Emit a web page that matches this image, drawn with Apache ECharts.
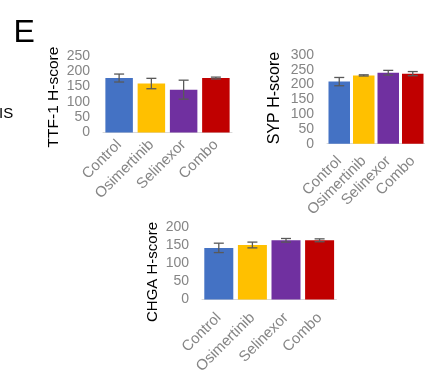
<!DOCTYPE html>
<html>
<head>
<meta charset="utf-8">
<style>
  html, body { margin: 0; padding: 0; background: #fff; }
  #chart { width: 425px; height: 381px; }
</style>
<script src="https://cdn.jsdelivr.net/npm/echarts@6/dist/echarts.min.js"></script>
</head>
<body>
<div id="chart"></div>
<script>
// Treatment groups shared by all three panels
const categories = ['Control', 'Osimertinib', 'Selinexor', 'Combo'];
const barColors = ['#4472C4', '#FFC000', '#7030A0', '#C00000'];

// TTF-1 H-score: mean and error
const ttf1Mean = [178, 160, 140, 178];
const ttf1Err = [13, 17, 31, 3];

// SYP H-score: mean and error
const sypMean = [210, 231, 240, 237];
const sypErr = [14, 2, 8, 7];

// CHGA H-score: mean and error
const chgaMean = [143, 151, 164, 164];
const chgaErr = [13, 8, 5, 4];

const FONT = '"Liberation Sans", Arial, sans-serif';
const GREY = '#858585';

const panels = [
  { title: 'TTF-1 H-score', mean: ttf1Mean, err: ttf1Err, max: 250,
    grid: { left: 103, top: 56, width: 129, height: 76.5 }, barWidth: 27.5, labelMargin: 10,
    titlePos: [54, 97], titleSize: 15.5 },
  { title: 'SYP H-score', mean: sypMean, err: sypErr, max: 300,
    grid: { left: 327, top: 55, width: 99.6, height: 88.7 }, barWidth: 21.5, labelMargin: 15,
    titlePos: [275, 98], titleSize: 16 },
  { title: 'CHGA H-score', mean: chgaMean, err: chgaErr, max: 200,
    grid: { left: 202, top: 227.3, width: 134.4, height: 72.2 }, barWidth: 29, labelMargin: 16,
    titlePos: [153, 272], titleSize: 15 }
];

const grids = [], xAxes = [], yAxes = [], series = [], graphics = [];

panels.forEach((p, i) => {
  grids.push(Object.assign({ containLabel: false }, p.grid));
  xAxes.push({
    type: 'category', gridIndex: i, data: categories,
    axisLine: { show: true, lineStyle: { color: '#d9d9d9', width: 1 } },
    axisTick: { show: false },
    axisLabel: { rotate: 45, interval: 0, color: GREY, fontFamily: FONT, fontSize: 15,
                 margin: p.labelMargin }
  });
  yAxes.push({
    type: 'value', gridIndex: i, min: 0, max: p.max, interval: 50,
    axisLine: { show: false }, axisTick: { show: false }, splitLine: { show: false },
    axisLabel: { color: GREY, fontFamily: FONT, fontSize: 14, margin: 13 }
  });
  series.push({
    type: 'bar', xAxisIndex: i, yAxisIndex: i, barWidth: p.barWidth,
    data: p.mean.map((v, k) => ({ value: v, itemStyle: { color: barColors[k] } })),
    silent: true
  });
  series.push({
    type: 'custom', xAxisIndex: i, yAxisIndex: i, silent: true, z: 5,
    data: p.mean.map((v, k) => [k, v - p.err[k], v + p.err[k]]),
    renderItem: (params, api) => {
      const lo = api.coord([api.value(0), api.value(1)]);
      const hi = api.coord([api.value(0), api.value(2)]);
      const half = 5;
      const style = { stroke: '#595959', lineWidth: 1.3 };
      return {
        type: 'group',
        children: [
          { type: 'line', shape: { x1: hi[0], y1: hi[1], x2: lo[0], y2: lo[1] }, style },
          { type: 'line', shape: { x1: hi[0] - half, y1: hi[1], x2: hi[0] + half, y2: hi[1] }, style },
          { type: 'line', shape: { x1: lo[0] - half, y1: lo[1], x2: lo[0] + half, y2: lo[1] }, style }
        ]
      };
    }
  });
  graphics.push({
    type: 'text', x: p.titlePos[0], y: p.titlePos[1], rotation: Math.PI / 2,
    style: { text: p.title, fill: '#000', font: p.titleSize + 'px ' + FONT,
             align: 'center', verticalAlign: 'middle' }
  });
});

// Panel letter and the clipped text at the left edge
graphics.push({ type: 'text', x: 13.5, y: 33, style: { text: 'E', fill: '#000',
  font: '32px ' + FONT, align: 'left', verticalAlign: 'middle' } });
graphics.push({ type: 'text', x: -1, y: 113.5, style: { text: 'IS', fill: '#000',
  font: '15px ' + FONT, align: 'left', verticalAlign: 'middle' } });

const chart = echarts.init(document.getElementById('chart'), null, { renderer: 'canvas' });
chart.setOption({
  animation: false,
  backgroundColor: '#fff',
  grid: grids, xAxis: xAxes, yAxis: yAxes, series: series, graphic: graphics
});
</script>
</body>
</html>
